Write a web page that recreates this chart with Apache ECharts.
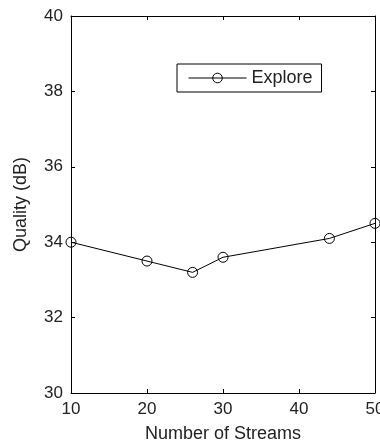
<!DOCTYPE html>
<html>
<head>
<meta charset="utf-8">
<script src="https://cdn.jsdelivr.net/npm/echarts@6/dist/echarts.min.js"></script>
<style>
html,body{margin:0;padding:0;background:#fff;}
#chart{width:380px;height:445px;}
</style>
</head>
<body>
<div id="chart"></div>
<script>
const streams = [10, 20, 26, 30, 44, 50];
const quality = [34.0, 33.5, 33.2, 33.6, 34.1, 34.5];
const seriesName = 'Explore';
const xTitle = 'Number of Streams';
const yTitle = 'Quality (dB)';

const font = 'Liberation Sans';
const chart = echarts.init(document.getElementById('chart'), null, {renderer: 'canvas'});
const axisLineStyle = {lineStyle: {color: '#000', width: 1}};
const tickStyle = {show: true, inside: true, length: 4, lineStyle: {color: '#000', width: 1}};
chart.setOption({
  animation: false,
  backgroundColor: '#fff',
  textStyle: {fontFamily: font},
  grid: {left: 71, right: 5, top: 16, bottom: 52, containLabel: false, outerBoundsMode: 'none'},
  legend: {
    left: 177, top: 64,
    borderColor: '#000', borderWidth: 1,
    padding: [5, 9, 5, 11],
    itemWidth: 58, itemHeight: 12,
    itemStyle: {color: 'rgba(0,0,0,0)', borderColor: '#000', borderWidth: 1},
    lineStyle: {color: '#000', width: 1},
    textStyle: {fontFamily: font, fontSize: 18, color: '#222'},
    data: [seriesName]
  },
  xAxis: [{
    type: 'value', min: 10, max: 50, interval: 10,
    name: xTitle, nameLocation: 'middle', nameGap: 32,
    nameTextStyle: {fontSize: 18, color: '#222', fontFamily: font},
    axisLine: axisLineStyle, axisTick: tickStyle,
    axisLabel: {fontSize: 17, color: '#222', margin: 8, fontFamily: font},
    splitLine: {show: false}
  }, {
    type: 'value', min: 10, max: 50, interval: 10, position: 'top',
    axisLine: axisLineStyle, axisTick: tickStyle,
    axisLabel: {show: false}, splitLine: {show: false}
  }],
  yAxis: [{
    type: 'value', min: 30, max: 40, interval: 2,
    name: yTitle, nameLocation: 'middle', nameGap: 41,
    nameTextStyle: {fontSize: 18, color: '#222', fontFamily: font},
    axisLine: axisLineStyle, axisTick: tickStyle,
    axisLabel: {fontSize: 17, color: '#222', margin: 8, fontFamily: font},
    splitLine: {show: false}
  }, {
    type: 'value', min: 30, max: 40, interval: 2, position: 'right',
    axisLine: axisLineStyle, axisTick: tickStyle,
    axisLabel: {show: false}, splitLine: {show: false}
  }],
  series: [{
    name: seriesName,
    type: 'line',
    data: streams.map((x, i) => [x, quality[i]]),
    symbol: 'circle', symbolSize: 10,
    lineStyle: {color: '#000', width: 1},
    itemStyle: {color: 'rgba(0,0,0,0)', borderColor: '#000', borderWidth: 1},
    clip: false
  }]
});
</script>
</body>
</html>
